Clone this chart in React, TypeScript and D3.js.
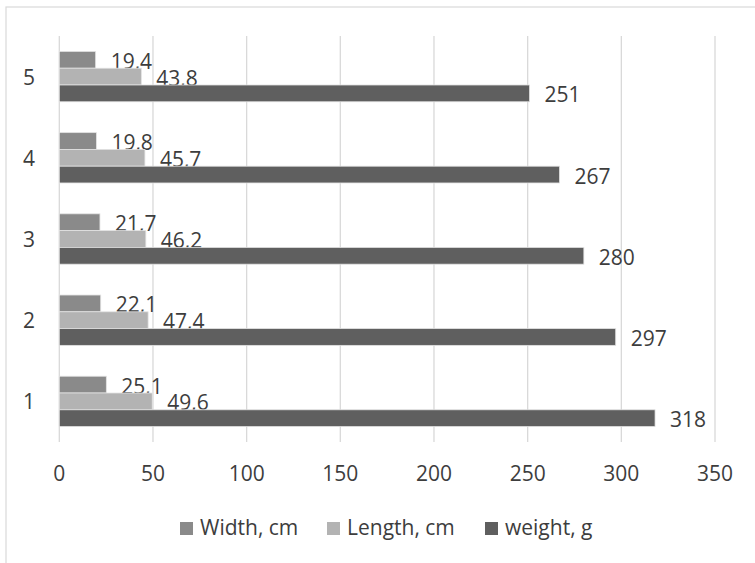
import { scaleBand, scaleLinear } from "d3";

const categories = ["1", "2", "3", "4", "5"];
const seriesNames = ["Width, cm", "Length, cm", "weight, g"];
const widthCm = [25.1, 22.1, 21.7, 19.8, 19.4];
const lengthCm = [49.6, 47.4, 46.2, 45.7, 43.8];
const weightG = [318, 297, 280, 267, 251];
const xTicks = [0, 50, 100, 150, 200, 250, 300, 350];
const colors = ["#8a8a8a", "#b3b3b3", "#5f5f5f"];

const W = 755;
const H = 563;
const marginLeft = 59.3;
const marginRight = 40;
const plotTop = 36;
const plotBottom = 442;
const font = "'Open Sans', 'Noto Sans', sans-serif";
const textColor = "#3d3d3d";

export default function App() {
  const series = [widthCm, lengthCm, weightG];

  const x = scaleLinear([0, 350], [marginLeft, W - marginRight]);
  // category 1 sits at the bottom
  const y = scaleBand([...categories].reverse(), [plotTop, plotBottom]).paddingInner(0.38).paddingOuter(0.19);
  const inner = scaleBand(seriesNames, [0, y.bandwidth()]);

  const fmt = (v: number) => String(v).replace(".", ",");
  const legendX = [180, 327, 485];

  return (
    <div style={{ position: "absolute", left: 0, top: 0 }}>
      <svg width={W} height={H} style={{ display: "block", background: "#fff" }}>
        <rect x={6} y={7} width={W + 10} height={H + 10} fill="#fff" stroke="#d9d9d9" strokeWidth={1.2} />
        {xTicks.map((t) => (
          <g key={t}>
            <line x1={x(t)} x2={x(t)} y1={plotTop} y2={plotBottom} stroke="#d9d9d9" strokeWidth={1.3} />
            <text x={x(t)} y={481} textAnchor="middle" fontFamily={font} fontSize={21} fill={textColor}>
              {t}
            </text>
          </g>
        ))}
        {categories.map((c, ci) => (
          <g key={c}>
            <text
              x={35}
              y={(y(c) ?? 0) + y.bandwidth() / 2}
              textAnchor="end"
              dominantBaseline="central"
              fontFamily={font}
              fontSize={21}
              fill={textColor}
            >
              {c}
            </text>
            {series.map((s, si) => {
              const by = (y(c) ?? 0) + (inner(seriesNames[si]) ?? 0);
              return (
                <g key={si}>
                  <rect
                    x={x(0)}
                    y={by}
                    width={x(s[ci]) - x(0)}
                    height={inner.bandwidth()}
                    fill={colors[si]}
                    stroke="#e2e2e2"
                    strokeWidth={0.8}
                  />
                  <text
                    x={x(s[ci]) + 15}
                    y={by + inner.bandwidth() / 2 + 1}
                    dominantBaseline="central"
                    fontFamily={font}
                    fontSize={21}
                    fill={textColor}
                  >
                    {fmt(s[ci])}
                  </text>
                </g>
              );
            })}
          </g>
        ))}
        {seriesNames.map((n, i) => (
          <g key={n}>
            <rect x={legendX[i]} y={522} width={13} height={13} fill={colors[i]} />
            <text x={legendX[i] + 20} y={535} fontFamily={font} fontSize={21} fill={textColor}>
              {n}
            </text>
          </g>
        ))}
      </svg>
    </div>
  );
}
